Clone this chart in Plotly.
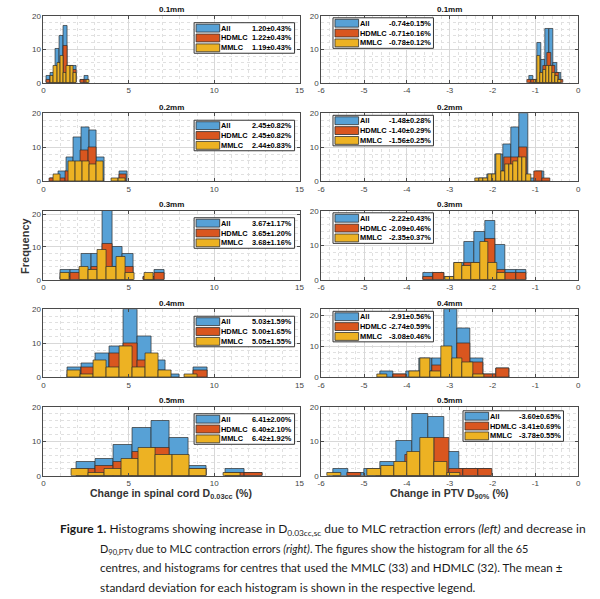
import plotly.graph_objects as go

W, H = 600, 599

# ---------------- data ----------------
titles = ["0.1mm", "0.2mm", "0.3mm", "0.4mm", "0.5mm"]
groups = ["All", "HDMLC", "MMLC"]

# Left column: change in spinal cord D0.03cc (%) -- bin start, bin width, counts
left_all_start = [0.19, 0.42, 0.99, 1.39, 1.94]
left_all_width = [0.245, 0.45, 0.61, 0.82, 1.09]
left_all_counts = [
    [2, 3, 10, 14, 17, 5, 5, 0, 1, 2],
    [1, 3, 7, 13, 16, 15, 7, 0, 0, 3],
    [3, 3, 8, 8, 21, 10, 8, 0, 1, 3],
    [3, 4, 7, 9, 20, 12, 5, 1, 0, 3],
    [4, 5, 9, 14, 16, 11, 3, 0, 2, 1],
]
left_hd_start = [0.19, 0.38, 0.99, 1.39, 1.94]
left_hd_width = [0.245, 0.45, 0.61, 0.82, 1.09]
left_hd_counts = [
    [1, 1, 4, 6, 11, 3, 4, 0, 1, 1],
    [1, 1, 3, 5, 9, 10, 1, 0, 0, 2],
    [1, 2, 3, 4, 11, 4, 4, 0, 1, 2],
    [1, 3, 2, 7, 10, 5, 2, 0, 0, 2],
    [2, 3, 4, 7, 8, 4, 2, 0, 1, 1],
]
left_mm_start = [0.42, 0.60, 0.99, 1.39, 1.62]
left_mm_width = [0.19, 0.42, 0.545, 0.765, 0.99]
left_mm_counts = [
    [2, 5, 6, 8, 3, 5, 5, 3, 0, 0, 0, 1],
    [2, 0, 6, 6, 6, 5, 6, 0, 1, 1],
    [2, 0, 4, 3, 9, 4, 7, 2, 0, 2],
    [2, 1, 5, 3, 9, 3, 7, 2, 0, 1],
    [2, 1, 2, 5, 8, 6, 6, 2, 0, 1],
]
left_stats = [
    ["1.20±0.43%", "1.22±0.43%", "1.19±0.43%"],
    ["2.45±0.82%", "2.45±0.82%", "2.44±0.83%"],
    ["3.67±1.17%", "3.65±1.20%", "3.68±1.16%"],
    ["5.03±1.59%", "5.00±1.65%", "5.05±1.55%"],
    ["6.41±2.00%", "6.40±2.10%", "6.42±1.92%"],
]

# Right column: change in PTV D90% (%)
right_all_start = [-1.15, -2.32, -3.62, -4.62, -5.73]
right_all_width = [0.095, 0.19, 0.24, 0.30, 0.37]
right_all_counts = [
    [2, 1, 12, 7, 16, 16, 6, 3],
    [1, 2, 8, 11, 16, 20, 1, 3],
    [2, 2, 1, 5, 11, 14, 17, 10, 3, 3],
    [2, 1, 2, 6, 6, 22, 16, 6, 1, 3],
    [2, 1, 2, 4, 10, 18, 17, 7, 2, 2],
]
right_hd_start = [-1.20, -2.10, -3.62, -4.62, -5.40]
right_hd_width = [0.095, 0.18, 0.24, 0.30, 0.34]
right_hd_counts = [
    [1, 1, 1, 3, 5, 9, 5, 3, 1],
    [1, 3, 7, 7, 10, 0, 3, 1],
    [1, 2, 0, 1, 5, 5, 12, 3, 2, 2],
    [0, 1, 0, 2, 4, 5, 11, 5, 1, 3],
    [1, 0, 1, 2, 6, 5, 11, 2, 2, 2],
]
right_mm_start = [-1.03, -2.41, -3.10, -4.70, -5.85]
right_mm_width = [0.07, 0.10, 0.20, 0.25, 0.31]
right_mm_counts = [
    [1, 8, 3, 4, 5, 5, 3, 2, 1],
    [1, 1, 1, 2, 2, 8, 3, 5, 5, 6, 7, 7, 2],
    [1, 5, 4, 5, 11, 5, 2],
    [1, 0, 0, 2, 6, 2, 10, 6, 5, 1],
    [1, 0, 0, 2, 3, 4, 7, 11, 4, 1],
]
right_stats = [
    ["-0.74±0.15%", "-0.71±0.16%", "-0.78±0.12%"],
    ["-1.48±0.28%", "-1.40±0.29%", "-1.56±0.25%"],
    ["-2.22±0.43%", "-2.09±0.46%", "-2.35±0.37%"],
    ["-2.91±0.56%", "-2.74±0.59%", "-3.08±0.46%"],
    ["-3.60±0.65%", "-3.41±0.69%", "-3.78±0.55%"],
]

left_xticks = [0, 5, 10, 15]
left_xticktext = ["0", "5", "10", "15"]
right_xticks = [-6, -5, -4, -3, -2, -1, 0]
right_xticktext = ["-6", "-5", "-4", "-3", "-2", "-1", "0"]
yticks = [0, 10, 20]
left_ymax = [20, 20, 21, 20, 20]
right_ymax = [20, 20, 20, 22, 20]

left_xlabel = "<b>Change in spinal cord D<sub>0.03cc</sub> (%)</b>"
right_xlabel = "<b>Change in PTV D<sub>90%</sub> (%)</b>"
ylabel = "<b>Frequency</b>"

caption_lines = [
    "<b>Figure 1.</b> Histograms showing increase in D<sub>0.03cc,sc</sub> due to MLC retraction errors <i>(left)</i> and decrease in",
    "D<sub>90,PTV</sub> due to MLC contraction errors <i>(right)</i>. The figures show the histogram for all the 65",
    "centres, and histograms for centres that used the MMLC (33) and HDMLC (32). The mean ±",
    "standard deviation for each histogram is shown in the respective legend.",
]

# ---------------- style / layout ----------------
colors = ["#57A1D6", "#D9561F", "#EDB223"]
edge = "#2e2e2e"
FONT = "Liberation Sans, Arial, sans-serif"
row_px = [(12, 80), (111, 180), (210, 280), (310, 379), (409, 479)]
col_px = [(40, 300), (322, 583)]

def px_x(p):
    return p / W

def px_y(p):
    return 1 - p / H

fig = go.Figure()
layout = {}
shapes = []
annotations = []

columns = [
    dict(starts=[left_all_start, left_hd_start, left_mm_start],
         widths=[left_all_width, left_hd_width, left_mm_width],
         counts=[left_all_counts, left_hd_counts, left_mm_counts],
         stats=left_stats, xr=[0, 15], tv=left_xticks, tt=left_xticktext,
         minor=1, ymax=left_ymax),
    dict(starts=[right_all_start, right_hd_start, right_mm_start],
         widths=[right_all_width, right_hd_width, right_mm_width],
         counts=[right_all_counts, right_hd_counts, right_mm_counts],
         stats=right_stats, xr=[-6, 0], tv=right_xticks, tt=right_xticktext,
         minor=0.2, ymax=right_ymax),
]

for r in range(5):
    for c in range(2):
        k = r * 2 + c + 1
        xn = "x" if k == 1 else f"x{k}"
        yn = "y" if k == 1 else f"y{k}"
        col = columns[c]
        (fx0, fx1), (fy0, fy1) = col_px[c], row_px[r]
        for g in range(3):
            st = col["starts"][g][r]
            wd = col["widths"][g][r]
            cnt = col["counts"][g][r]
            xs = [st + wd * (i + 0.5) for i, v in enumerate(cnt) if v > 0]
            ys = [v for v in cnt if v > 0]
            fig.add_trace(go.Bar(
                x=xs, y=ys, width=wd, xaxis=xn, yaxis=yn,
                marker=dict(color=colors[g], line=dict(color=edge, width=0.7)),
                showlegend=False, hoverinfo="skip"))
        axis_common = dict(
            showline=True, mirror="ticks", linecolor="#4a4a4a", linewidth=0.8,
            ticks="inside", ticklen=3, tickcolor="#4a4a4a", tickwidth=0.8,
            tickfont=dict(size=8, color="#444444", family=FONT),
            showgrid=True, gridcolor="#d8d8d8", gridwidth=0.6,
            zeroline=False, fixedrange=True)
        layout["xaxis" if k == 1 else f"xaxis{k}"] = dict(
            axis_common, domain=[px_x(fx0), px_x(fx1)], range=col["xr"],
            anchor=yn, tickmode="array", tickvals=col["tv"], ticktext=col["tt"],
            minor=dict(dtick=col["minor"], tick0=0, showgrid=True,
                       gridcolor="#e0e0e0", griddash="dot", gridwidth=0.6))
        layout["yaxis" if k == 1 else f"yaxis{k}"] = dict(
            axis_common, domain=[px_y(fy1), px_y(fy0)], range=[0, col["ymax"][r]],
            anchor=xn, tickmode="array", tickvals=yticks,
            ticktext=[str(v) for v in yticks],
            minor=dict(dtick=2, tick0=0, showgrid=True,
                       gridcolor="#e0e0e0", griddash="dot", gridwidth=0.6))
        # panel title
        annotations.append(dict(
            xref="paper", yref="paper", x=px_x((fx0 + fx1) / 2), y=px_y(fy0 - 6),
            text=f"<b>{titles[r]}</b>", showarrow=False, xanchor="center",
            yanchor="middle", font=dict(size=8, color="#111111", family=FONT)))
        # legend box
        if c == 0:
            bx0, bx1, by0 = 193, 295, fy0 + 7
        elif r < 4:
            bx0, bx1, by0 = 334, 436, fy0 + 2
        else:
            bx0, bx1, by0 = 466, 568, fy0 + 4
        shapes.append(dict(type="rect", xref="paper", yref="paper",
                           x0=px_x(bx0), x1=px_x(bx1), y0=px_y(by0 + 31), y1=px_y(by0),
                           fillcolor="white", line=dict(color="#333333", width=1)))
        for g in range(3):
            cy = by0 + 5.5 + 10 * g
            shapes.append(dict(type="rect", xref="paper", yref="paper",
                               x0=px_x(bx0 + 2), x1=px_x(bx0 + 26),
                               y0=px_y(cy + 4), y1=px_y(cy - 4),
                               fillcolor=colors[g], line=dict(color=edge, width=0.8)))
            annotations.append(dict(
                xref="paper", yref="paper", x=px_x(bx0 + 26.5), y=px_y(cy),
                text=f"<b>{groups[g]}</b>", showarrow=False, xanchor="left",
                yanchor="middle", borderpad=0,
                font=dict(size=7.4, color="#000000", family=FONT)))
            annotations.append(dict(
                xref="paper", yref="paper", x=px_x(bx1 - 1.5), y=px_y(cy),
                text=f"<b>{col['stats'][r][g]}</b>", showarrow=False, xanchor="right",
                yanchor="middle", borderpad=0,
                font=dict(size=7.4, color="#000000", family=FONT)))

# axis titles
annotations.append(dict(xref="paper", yref="paper", x=px_x(170), y=px_y(497),
                        text=left_xlabel, showarrow=False, xanchor="center", yanchor="middle",
                        font=dict(size=10.5, color="#333333", family=FONT)))
annotations.append(dict(xref="paper", yref="paper", x=px_x(452), y=px_y(497),
                        text=right_xlabel, showarrow=False, xanchor="center", yanchor="middle",
                        font=dict(size=10.5, color="#333333", family=FONT)))
annotations.append(dict(xref="paper", yref="paper", x=px_x(22), y=px_y(245),
                        text=ylabel, showarrow=False, textangle=-90,
                        xanchor="center", yanchor="middle",
                        font=dict(size=11, color="#333333", family=FONT)))

# caption
cap_x = [55, 95, 95, 95]
cap_y = [534, 554, 572, 592]
cap_size = [12, 10.9, 11.6, 11.9]
for line, lx, ly, fs in zip(caption_lines, cap_x, cap_y, cap_size):
    annotations.append(dict(xref="paper", yref="paper", x=px_x(lx), y=px_y(ly),
                            text=line, showarrow=False, xanchor="left", yanchor="middle",
                            font=dict(size=fs, color="#1a1a1a", family="Lato, Liberation Sans, sans-serif")))

fig.update_layout(
    width=W, height=H, margin=dict(l=0, r=0, t=0, b=0),
    paper_bgcolor="white", plot_bgcolor="white",
    barmode="overlay", bargap=0, showlegend=False,
    font=dict(family=FONT),
    shapes=shapes, annotations=annotations, **layout)

fig.write_html("out.html", config={"displayModeBar": False},
               post_script="document.body.style.margin='0px'; document.body.style.overflow='hidden';")
